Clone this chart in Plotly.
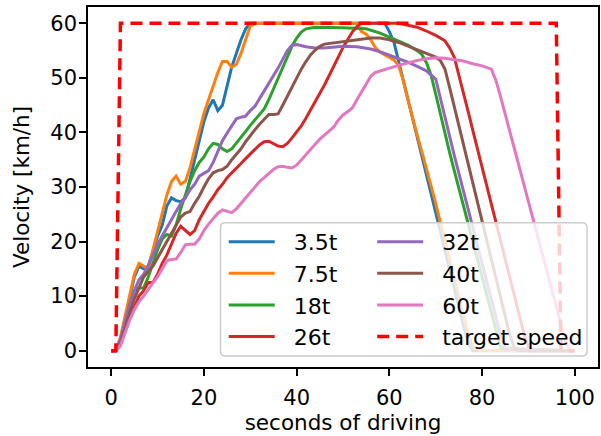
import plotly.graph_objects as go

# Velocity profiles of trucks of different mass following a target speed
t_35 = [0, 1, 2, 3, 4, 5, 6, 7, 8, 9, 10, 11, 12, 13, 14, 15, 16, 17, 18, 19, 20, 21, 22, 23, 24, 25, 26, 27, 28, 29, 30,
        59, 60, 61, 62, 63, 64, 65, 66, 67, 68, 69, 70, 71, 72, 73, 74, 75, 76, 77, 78, 100]
v_35 = [0, 0, 2, 6, 10, 13.5, 15.5, 15, 15.5, 18.5, 21, 23, 26.5, 28, 27.5, 27.3, 28, 31.5, 35, 38.5, 42, 44.5, 46, 44, 45, 48.5, 52, 54.5, 57, 59, 60,
        60, 58.5, 56.5, 53, 49.5, 46, 42.5, 39, 35.5, 32, 28.5, 25.5, 22, 18.5, 15, 11.5, 8, 4.5, 1.5, 0, 0]

t_75 = [0, 1, 2, 3, 4, 5, 6, 7, 8, 9, 10, 11, 12, 13, 14, 15, 16, 17, 18, 19, 20, 21, 22, 23, 24, 25, 26, 27, 28, 29, 30, 31,
        53, 54, 55, 56, 57, 58, 59, 60, 61, 62, 63, 64, 65, 66, 67, 68, 69, 70, 71, 72, 73, 74, 75, 76, 77, 78, 79, 100]
v_75 = [0, 0, 2.5, 6.5, 10.5, 14, 16, 15.5, 15, 18.5, 22, 25.5, 28.5, 31, 32, 30.5, 31, 33.5, 37, 40.5, 43.5, 46, 48.5, 51, 53, 53, 52, 52.5, 54.5, 57, 59.5, 60,
        60, 58.5, 58, 57, 55.5, 54.7, 54.2, 53.7, 53.3, 52.3, 49.5, 46, 42.5, 39.5, 36.5, 33.5, 30, 27, 23.5, 20, 16.5, 13, 9.5, 6, 3, 0.7, 0, 0]

t_18 = [0, 1, 2, 3, 4, 5, 6, 7, 8, 9, 10, 11, 12, 13, 14, 15, 16, 17, 18, 19, 20, 21, 22, 23, 24, 25, 26, 27, 28, 29, 30, 31, 32, 33,
        34, 35, 36, 37, 38, 39, 40, 41, 42, 43, 44, 50, 55, 58, 60, 62, 64, 66, 67, 68, 69, 70, 71, 72, 73, 74, 75, 76, 77, 78, 79,
        80, 81, 82, 83, 84, 100]
v_18 = [0, 0, 1.5, 5, 8.5, 11, 11.5, 11.5, 13.5, 16, 18.5, 20.5, 21.3, 21, 23, 26, 28.5, 31, 33, 34.5, 35.5, 37, 38, 37.8, 37, 36.5, 37, 38, 39, 40.2, 41.3, 42.3, 43.3, 44.3,
        46, 48, 50, 52, 54, 55.8, 57.3, 58.4, 59, 59.2, 59.3, 59.2, 59, 58.2, 57.5, 56.8, 56, 55, 54.3, 52.8, 50.5, 47, 43.3, 39.6, 36.3, 33, 29.7, 26.4, 23.1, 19.8, 16.5,
        13.2, 9.9, 6.6, 3.3, 0.5, 0]

t_26 = [0, 1, 2, 3, 4, 5, 6, 7, 8, 9, 10, 11, 12, 13, 14, 15, 16, 17, 18, 19, 20, 21, 22, 23, 24, 25, 26, 27, 28, 29, 30, 31, 32, 33,
        34, 35, 36, 37, 38, 39, 40, 41, 42, 43, 44, 45, 46, 47, 48, 49, 50, 51, 52, 53, 54, 62, 64, 66, 68, 70, 72, 73, 74, 75, 76,
        77, 78, 79, 80, 81, 82, 83, 84, 85, 86, 87, 88, 89, 90, 91, 100]
v_26 = [0, 0, 1, 3.5, 6, 8, 10, 11, 12.5, 12.5, 14, 16, 17.5, 19.5, 21.5, 22.8, 22, 21.3, 22, 24, 25.5, 27, 28.2, 29.5, 30.5, 31.7, 32.6, 33.4, 34.3, 35.2, 36.1, 36.9, 37.7, 38.3,
        38.4, 38, 37.5, 37.4, 38, 39, 40, 41.2, 42.6, 44.1, 45.6, 47.1, 48.7, 50.4, 52.2, 54, 55.6, 57, 58.4, 59.4, 60, 60, 59.7, 59.3, 58.6, 57.8, 56.8, 55.5, 53.8, 50.6, 47.2,
        43.8, 40.4, 37, 33.6, 30.2, 26.8, 23.4, 20, 16.6, 13.2, 9.8, 6.4, 3.2, 0.6, 0, 0]

t_32 = [0, 1, 2, 3, 4, 5, 6, 7, 8, 9, 10, 11, 12, 13, 14, 15, 16, 17, 18, 19, 20, 21, 22, 23, 24, 25, 26, 27, 28, 29, 30, 31, 32, 33,
        34, 35, 36, 37, 38, 39, 40, 42, 44, 46, 48, 50, 53, 56, 58, 60, 62, 64, 66, 68, 70, 71, 72, 73, 74, 75, 76, 77, 78, 79, 80,
        81, 82, 83, 84, 85, 100]
v_32 = [0, 0, 2, 5.5, 8.5, 11, 13, 14, 15.5, 17.5, 19.5, 21, 22.5, 24, 25.5, 27, 28, 29.5, 30.5, 32, 32.5, 33, 34.5, 36.5, 38.5, 39.9, 41.3, 42.5, 42.8, 43, 44, 44.8, 46.2, 47.6,
        48.8, 50.2, 51.8, 53.4, 55, 56, 56.1, 55.7, 55.5, 55.5, 55.7, 55.8, 55.7, 55.3, 54.8, 54.2, 53.6, 52.9, 52.1, 51.3, 49.8, 46.2, 42.6, 39.2, 35.8, 32.5, 29.2, 25.9, 22.6, 19.3, 16,
        12.7, 9.4, 6.1, 2.8, 0.3, 0]

t_40 = [0, 1, 2, 3, 4, 5, 6, 7, 8, 9, 10, 11, 12, 13, 14, 15, 16, 17, 18, 19, 20, 21, 22, 23, 24, 25, 26, 27, 28, 29, 30, 31, 32, 33,
        34, 35, 36, 37, 38, 39, 40, 41, 42, 43, 44, 45, 46, 48, 50, 53, 56, 58, 60, 62, 64, 66, 68, 70, 71, 72, 73, 74, 75, 76, 77,
        78, 79, 80, 81, 82, 83, 84, 85, 86, 87, 88, 100]
v_40 = [0, 0, 1.5, 4, 7, 9.5, 11.5, 13.5, 14.5, 15.5, 17, 18.5, 20, 21.5, 23, 24.5, 25.2, 25.5, 27, 28.3, 30, 31.5, 32.6, 33, 33.2, 33.8, 35, 36, 37, 38.3, 39.5, 40.5, 41.5, 42.5,
        43.3, 43.3, 43.4, 45, 46.7, 48.4, 50, 51.6, 53, 54.2, 55.1, 55.8, 56.2, 56.4, 56.6, 57, 57.3, 57.3, 57, 56.5, 55.8, 55.1, 54.5, 53.8, 53.2, 51.6, 48.2, 44.7, 41.2, 37.7, 34.2,
        30.7, 27.2, 23.7, 20.2, 16.7, 13.2, 9.7, 6.2, 2.8, 0.4, 0, 0]

t_60 = [0, 1, 2, 3, 4, 5, 6, 7, 8, 9, 10, 11, 12, 13, 14, 15, 16, 17, 18, 19, 20, 21, 22, 23, 24, 25, 26, 27, 28, 29, 30, 31, 32, 33,
        34, 35, 36, 37, 38, 39, 40, 41, 42, 43, 44, 45, 46, 47, 48, 49, 50, 51, 52, 53, 54, 55, 56, 57, 58, 60, 62, 64, 66, 68, 70,
        72, 74, 76, 78, 80, 82, 83, 84, 85, 86, 87, 88, 89, 90, 91, 92, 93, 94, 95, 96, 97, 98, 99, 100]
v_60 = [0, 0, 1, 3.5, 5.6, 7.5, 9, 10, 11.3, 12.4, 13.5, 15, 16.5, 16.7, 16.8, 18, 19.4, 19.5, 19.5, 20.5, 22, 23.2, 24.2, 25.2, 25.8, 25.5, 25.3, 26, 27, 28.2, 29.2, 30, 31, 31.7,
        32.5, 33.2, 33.7, 33.8, 33.6, 33.5, 34, 35, 36, 37, 38, 38.8, 39.5, 40.2, 41, 42.3, 43.2, 43.8, 44.5, 46, 47.5, 49, 50.3, 51, 51.3, 51.8, 52.3, 52.8, 53.2, 53.5, 53.7,
        53.6, 53.4, 53.1, 52.6, 52.2, 51.6, 49.5, 46.5, 43.3, 40.1, 36.9, 33.7, 30.5, 27.3, 24.1, 20.9, 17.7, 14.5, 11.3, 8.1, 4.9, 1.7, 0, 0]

t_target = [0, 1, 2, 96, 97, 100]
v_target = [0, 0, 60, 60, 0, 0]

series = [
    ("3.5t", t_35, v_35, "#1f77b4", "legend"),
    ("7.5t", t_75, v_75, "#ff7f0e", "legend"),
    ("18t", t_18, v_18, "#2ca02c", "legend"),
    ("26t", t_26, v_26, "#d62728", "legend"),
    ("32t", t_32, v_32, "#9467bd", "legend2"),
    ("40t", t_40, v_40, "#8c564b", "legend2"),
    ("60t", t_60, v_60, "#e377c2", "legend2"),
]

FONT = "DejaVu Sans"
GAP = "\u00a0\u00a0"  # extra room between legend sample line and its label

fig = go.Figure()
for name, t, v, color, leg in series:
    fig.add_trace(go.Scatter(x=t, y=v, mode="lines", name=GAP + name, legend=leg,
                             line=dict(color=color, width=3)))
fig.add_trace(go.Scatter(x=t_target, y=v_target, mode="lines", name=GAP + "target speed", legend="legend2",
                         line=dict(color="#ff0000", width=3.5, dash="12px,7px")))

axis_common = dict(showline=True, mirror=True, linecolor="black", linewidth=1.6,
                   ticks="outside", ticklen=7, tickwidth=1.6, tickcolor="black",
                   showgrid=False, zeroline=False,
                   tickfont=dict(family=FONT, size=21, color="black"))

fig.update_xaxes(range=[-5, 105], tickvals=[0, 20, 40, 60, 80, 100], ticklabelstandoff=4,
                 title=dict(text="seconds of driving", font=dict(family=FONT, size=21.5, color="black"), standoff=0),
                 **axis_common)
fig.update_yaxes(range=[-3, 63], tickvals=[0, 10, 20, 30, 40, 50, 60], ticklabelstandoff=-2,
                 title=dict(text="Velocity [km/h]", font=dict(family=FONT, size=21.5, color="black"), standoff=15),
                 **axis_common)

legend_common = dict(font=dict(family=FONT, size=22, color="black"), bgcolor="rgba(0,0,0,0)",
                     borderwidth=0, xanchor="left", yanchor="top", itemwidth=46,
                     itemclick=False, itemdoubleclick=False)

# shared rounded legend frame behind both legend columns
x0, x1, y0, y1 = 0.2598, 0.9785, 0.0306, 0.4008
rx, ry = 5 / 512, 5 / 360
frame_path = (f"M{x0 + rx},{y0} L{x1 - rx},{y0} Q{x1},{y0} {x1},{y0 + ry} "
              f"L{x1},{y1 - ry} Q{x1},{y1} {x1 - rx},{y1} "
              f"L{x0 + rx},{y1} Q{x0},{y1} {x0},{y1 - ry} "
              f"L{x0},{y0 + ry} Q{x0},{y0} {x0 + rx},{y0} Z")

fig.update_layout(
    width=601, height=436,
    margin=dict(l=88, r=1, t=7, b=69),
    paper_bgcolor="white", plot_bgcolor="white",
    font=dict(family=FONT, color="black"),
    legend=dict(x=0.2661, y=0.4058, **legend_common),
    legend2=dict(x=0.5572, y=0.4058, **legend_common),
    shapes=[dict(type="path", path=frame_path, xref="paper", yref="paper",
                 fillcolor="rgba(255,255,255,0.8)", line=dict(color="#cccccc", width=1.5),
                 layer="above")],
)

fig.write_html("out.html")
